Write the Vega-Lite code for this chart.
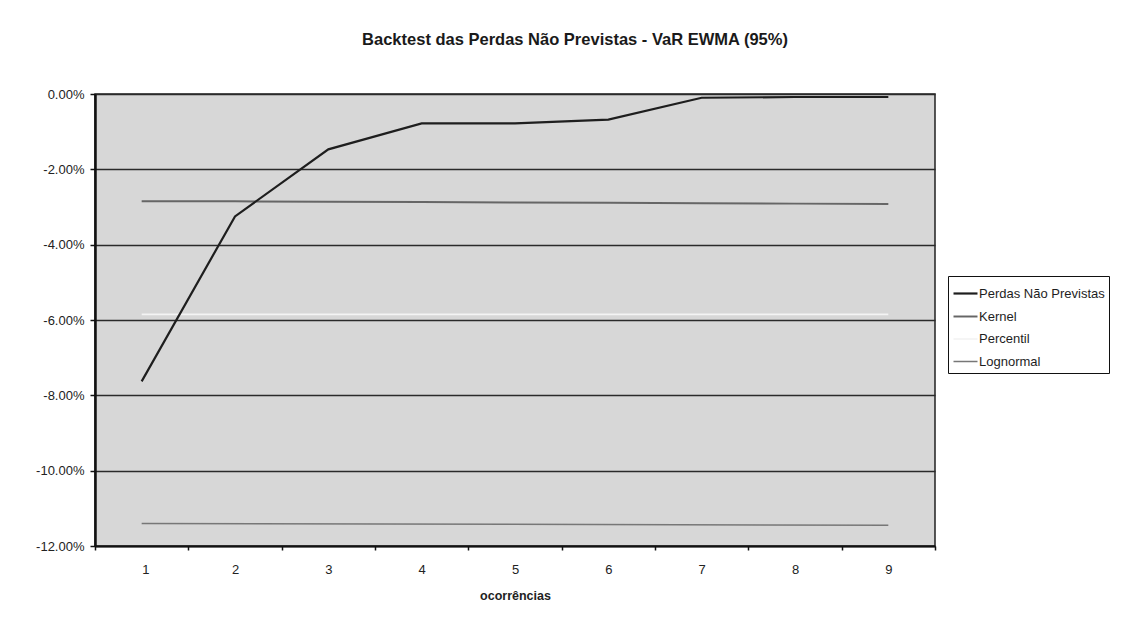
{
  "$schema": "https://vega.github.io/schema/vega-lite/v6.json",
  "width": 840,
  "height": 452,
  "autosize": "none",
  "padding": {"left": 95, "top": 94, "right": 191, "bottom": 75},
  "background": "#ffffff",
  "title": {
    "text": "Backtest das Perdas Não Previstas - VaR EWMA (95%)",
    "font": "Liberation Sans",
    "fontSize": 16.5,
    "fontWeight": "bold",
    "color": "#1a1a1a",
    "anchor": "middle",
    "dx": 60,
    "offset": 40
  },
  "data": {
    "values": [
      {"serie": "Percentil", "x": 1, "v": -0.0585},
      {"serie": "Percentil", "x": 9, "v": -0.0585},
      {"serie": "Lognormal", "x": 1, "v": -0.114},
      {"serie": "Lognormal", "x": 9, "v": -0.1145},
      {"serie": "Kernel", "x": 1, "v": -0.0285},
      {"serie": "Kernel", "x": 2, "v": -0.0285},
      {"serie": "Kernel", "x": 3, "v": -0.0286},
      {"serie": "Kernel", "x": 4, "v": -0.0287},
      {"serie": "Kernel", "x": 5, "v": -0.0288},
      {"serie": "Kernel", "x": 6, "v": -0.0289},
      {"serie": "Kernel", "x": 7, "v": -0.029},
      {"serie": "Kernel", "x": 8, "v": -0.0291},
      {"serie": "Kernel", "x": 9, "v": -0.0292},
      {"serie": "Perdas Não Previstas", "x": 1, "v": -0.0763},
      {"serie": "Perdas Não Previstas", "x": 2, "v": -0.0325},
      {"serie": "Perdas Não Previstas", "x": 3, "v": -0.0147},
      {"serie": "Perdas Não Previstas", "x": 4, "v": -0.0078},
      {"serie": "Perdas Não Previstas", "x": 5, "v": -0.0078},
      {"serie": "Perdas Não Previstas", "x": 6, "v": -0.0068},
      {"serie": "Perdas Não Previstas", "x": 7, "v": -0.001},
      {"serie": "Perdas Não Previstas", "x": 8, "v": -0.0008},
      {"serie": "Perdas Não Previstas", "x": 9, "v": -0.0008}
    ]
  },
  "mark": {"type": "line", "interpolate": "linear"},
  "encoding": {
    "x": {
      "field": "x",
      "type": "quantitative",
      "scale": {"domain": [0.5, 9.5], "nice": false, "zero": false},
      "axis": {
        "title": "ocorrências",
        "values": [0.5, 1.5, 2.5, 3.5, 4.5, 5.5, 6.5, 7.5, 8.5, 9.5],
        "labelExpr": "datum.value > 9 ? '' : format(datum.value + 0.5, 'd')",
        "labelOffset": 46.7,
        "grid": false,
        "domainColor": "#111111",
        "domainWidth": 2,
        "tickColor": "#111111",
        "tickWidth": 1.5,
        "tickSize": 4,
        "labelFont": "Liberation Sans",
        "labelFontSize": 13,
        "labelColor": "#222222",
        "labelPadding": 13,
        "titleFont": "Liberation Sans",
        "titleFontSize": 12.5,
        "titleFontWeight": "bold",
        "titleColor": "#222222",
        "titlePadding": 13
      }
    },
    "y": {
      "field": "v",
      "type": "quantitative",
      "scale": {"domain": [-0.12, 0], "nice": false},
      "axis": {
        "title": null,
        "values": [0, -0.02, -0.04, -0.06, -0.08, -0.1, -0.12],
        "labelExpr": "replace(format(datum.value, '.2%'), '−', '-')",
        "grid": true,
        "gridColor": "#2a2a2a",
        "gridWidth": 1.6,
        "gridOpacity": 1,
        "domainColor": "#111111",
        "domainWidth": 2.5,
        "tickColor": "#111111",
        "tickWidth": 1.5,
        "tickSize": 5,
        "labelFont": "Liberation Sans",
        "labelFontSize": 13,
        "labelColor": "#222222",
        "labelPadding": 6
      }
    },
    "color": {
      "field": "serie",
      "type": "nominal",
      "scale": {
        "domain": ["Perdas Não Previstas", "Kernel", "Percentil", "Lognormal"],
        "range": ["#1e1e1e", "#666666", "#f4f4f4", "#777777"]
      },
      "legend": {
        "title": null,
        "orient": "none",
        "legendX": 853,
        "legendY": 182,
        "symbolType": "stroke",
        "symbolSize": 576,
        "symbolStrokeWidth": 1.5,
        "labelFont": "Liberation Sans",
        "labelFontSize": 13,
        "labelColor": "#1e1e1e",
        "labelOffset": 0,
        "rowPadding": 2.5,
        "padding": 4,
        "strokeColor": "#111111",
        "fillColor": "#ffffff"
      }
    },
    "strokeWidth": {
      "field": "serie",
      "type": "nominal",
      "scale": {
        "domain": ["Perdas Não Previstas", "Kernel", "Percentil", "Lognormal"],
        "range": [2.2, 1.5, 1.2, 1]
      },
      "legend": null
    }
  },
  "config": {
    "view": {"fill": "#d7d7d7", "stroke": "#222222", "strokeWidth": 1.5}
  }
}
